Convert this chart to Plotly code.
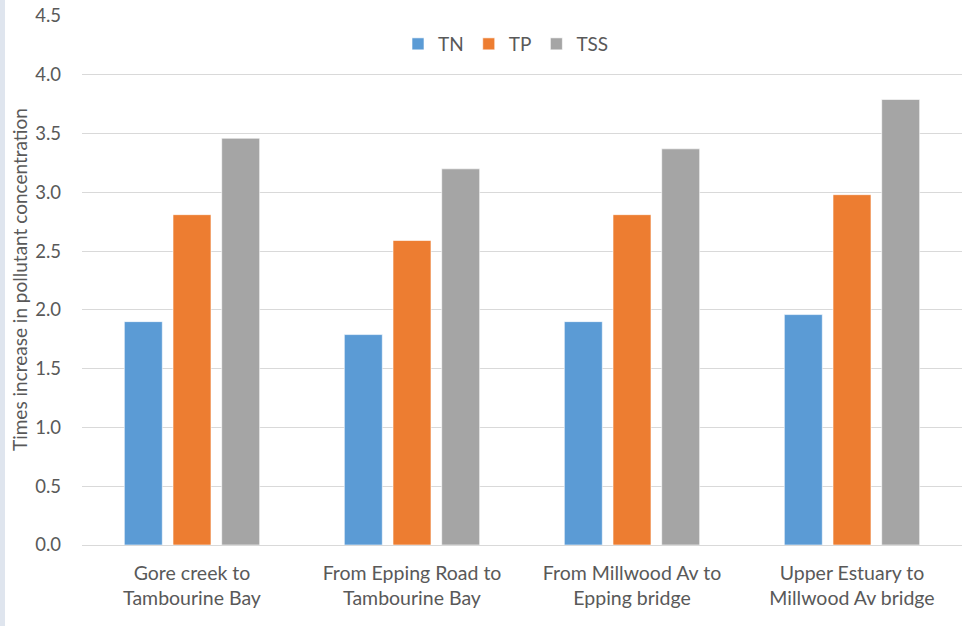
import plotly.graph_objects as go

categories = ["Gore creek to<br>Tambourine Bay",
              "From Epping Road to<br>Tambourine Bay",
              "From Millwood Av to<br>Epping bridge",
              "Upper Estuary to<br>Millwood Av bridge"]
tn = [1.90, 1.79, 1.90, 1.96]
tp = [2.81, 2.59, 2.81, 2.98]
tss = [3.46, 3.20, 3.37, 3.79]
y_ticks = [0.0, 0.5, 1.0, 1.5, 2.0, 2.5, 3.0, 3.5, 4.0, 4.5]

FONT = "Lato"
TXT = "#595959"

fig = go.Figure()
for name, vals, col in [("TN", tn, "#5B9BD5"), ("TP", tp, "#ED7D31"), ("TSS", tss, "#A5A5A5")]:
    fig.add_trace(go.Bar(x=categories, y=vals, name=name,
                         marker=dict(color=col, line=dict(color="rgba(255,255,255,0.6)", width=1))))

W, H = 962, 626
L, R, T, B = 82, 0, 16, 81
pw = W - L - R
ph = H - T - B

fig.update_layout(
    width=W, height=H,
    margin=dict(l=L, r=R, t=T, b=B),
    paper_bgcolor="white", plot_bgcolor="white",
    barmode="group", bargap=0.336, bargroupgap=0.22,
    font=dict(family=FONT, color=TXT, size=19),
    showlegend=True,
    legend=dict(orientation="h", x=(398 - L) / pw, xanchor="left", y=(H - B - 44) / ph, yanchor="middle",
                font=dict(family=FONT, size=19, color=TXT), bgcolor="rgba(0,0,0,0)"),
    xaxis=dict(showgrid=False, showline=False, ticks="", ticklabelstandoff=14,
               tickfont=dict(family=FONT, size=19.5, color=TXT)),
    yaxis=dict(range=[0, 4.5], tickvals=y_ticks, ticktext=[f"{v:.1f}" for v in y_ticks],
               showgrid=True, gridcolor="#d9d9d9", gridwidth=1,
               zeroline=True, zerolinecolor="#d9d9d9", zerolinewidth=1,
               showline=False, ticks="", ticklabelstandoff=20,
               tickfont=dict(family=FONT, size=18.5, color=TXT)),
    shapes=[dict(type="rect", xref="paper", yref="paper", x0=-L / pw, x1=(5 - L) / pw,
                 y0=-B / ph - 0.1, y1=1 + T / ph + 0.1, fillcolor="#dfe5ee",
                 line=dict(width=0), layer="below")],
    annotations=[dict(text="Times increase in pollutant concentration", textangle=-90,
                      xref="paper", yref="paper", x=(19 - L) / pw, y=(H - B - 280) / ph,
                      xanchor="center", yanchor="middle", showarrow=False,
                      font=dict(family=FONT, size=19, color=TXT))],
)

fig.write_html("out.html", config={"displayModeBar": False},
               post_script="document.body.style.margin='0';")
